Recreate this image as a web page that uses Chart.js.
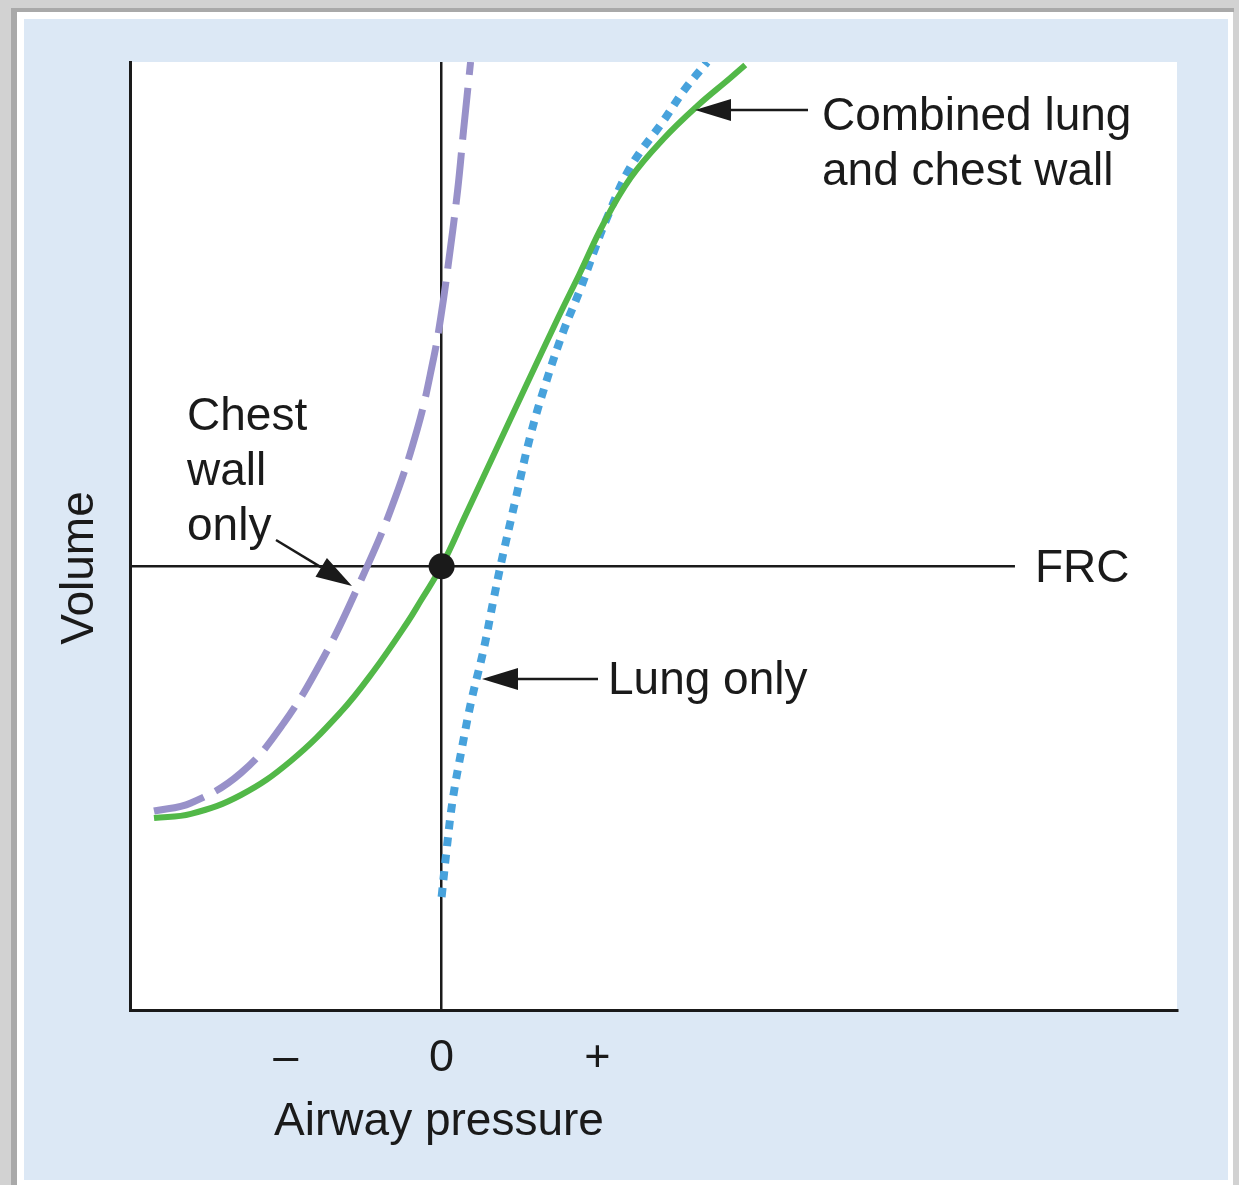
<!DOCTYPE html>
<html>
<head>
<meta charset="utf-8">
<title>Pressure–volume curves</title>
<script src="https://cdn.jsdelivr.net/npm/chart.js@4.4.1/dist/chart.umd.min.js"></script>
<style>
  html, body { margin: 0; padding: 0; background: #fff; }
  canvas { display: block; }
</style>
</head>
<body>
<canvas id="pvChart" width="1239" height="1185"></canvas>
<script>
// airway pressure (x) against volume (y), arbitrary units
const pressureTicks = [-1, 0, 1];
const pressureLabels = ['–', '0', '+'];
const frcVolume = 4.68;
const frcLineEnd = 3.68;

// combined lung and chest wall
const combinedP = [-1.846, -1.609, -1.288, -0.968, -0.647, -0.436, -0.218, -0.135, 0, 0.151, 0.340, 0.532, 0.750, 0.885, 1.038, 1.212, 1.423, 1.641, 1.853, 1.949];
const combinedV = [2.025, 2.068, 2.268, 2.627, 3.143, 3.576, 4.093, 4.314, 4.684, 5.211, 5.876, 6.551, 7.310, 7.764, 8.291, 8.776, 9.188, 9.536, 9.831, 9.968];

// lung only
const lungP = [0, 0.032, 0.071, 0.128, 0.192, 0.269, 0.333, 0.378, 0.474, 0.571, 0.673, 0.782, 0.891, 0.981, 1.064, 1.212, 1.423, 1.558, 1.705];
const lungV = [1.192, 1.688, 2.215, 2.743, 3.270, 3.797, 4.325, 4.684, 5.380, 6.065, 6.635, 7.162, 7.606, 8.017, 8.365, 8.892, 9.378, 9.705, 10.0];

// chest wall only
const chestP = [-1.846, -1.609, -1.288, -1.013, -0.756, -0.538, -0.327, -0.154, -0.051, -0.006, 0.038, 0.103, 0.141, 0.186];
const chestV = [2.099, 2.184, 2.500, 3.027, 3.724, 4.462, 5.274, 6.139, 6.878, 7.300, 7.806, 8.650, 9.283, 10.0];

const toPoints = (xs, ys) => xs.map((x, i) => ({ x: x, y: ys[i] }));

const INK = '#1a1a1a';
const FONT = '46px "Liberation Sans", Arial, sans-serif';

// frame, blue panel and white plot area
const framePlugin = {
  id: 'frame',
  beforeDraw(chart) {
    const c = chart.ctx, a = chart.chartArea;
    c.save();
    c.fillStyle = '#d2d2d2';
    c.fillRect(0, 0, chart.width, chart.height);
    c.fillStyle = '#a9a9a9';
    c.fillRect(11, 8, 6, chart.height);
    c.fillRect(11, 8, chart.width - 16, 4);
    c.fillStyle = '#ffffff';
    c.fillRect(17, 12, 1216, chart.height - 12);
    c.fillStyle = '#dce8f5';
    c.fillRect(24, 19, 1204, 1161);
    c.fillStyle = '#ffffff';
    c.fillRect(a.left, a.top, a.right - a.left, a.bottom - a.top);
    c.restore();
  }
};

function arrow(c, x1, y1, x2, y2) {
  const ang = Math.atan2(y2 - y1, x2 - x1);
  const len = 36, half = 11;
  const bx = x2 - len * Math.cos(ang), by = y2 - len * Math.sin(ang);
  c.beginPath();
  c.moveTo(x1, y1);
  c.lineTo(bx, by);
  c.lineWidth = 2.5;
  c.strokeStyle = INK;
  c.stroke();
  c.beginPath();
  c.moveTo(x2, y2);
  c.lineTo(bx + half * Math.sin(ang), by - half * Math.cos(ang));
  c.lineTo(bx - half * Math.sin(ang), by + half * Math.cos(ang));
  c.closePath();
  c.fillStyle = INK;
  c.fill();
}

// labels, arrows and axis titles
const notesPlugin = {
  id: 'notes',
  afterDraw(chart) {
    const c = chart.ctx;
    c.save();
    c.font = FONT;
    c.fillStyle = INK;
    c.textAlign = 'left';
    c.textBaseline = 'alphabetic';
    c.fillText('Combined lung', 822, 130);
    c.fillText('and chest wall', 822, 185);
    c.fillText('Chest', 187, 430);
    c.fillText('wall', 187, 485);
    c.fillText('only', 187, 540);
    c.fillText('FRC', 1035, 582);
    c.fillText('Lung only', 608, 694);
    c.textAlign = 'center';
    c.fillText('Airway pressure', 439, 1135);
    c.save();
    c.translate(93, 568);
    c.rotate(-Math.PI / 2);
    c.fillText('Volume', 0, 0);
    c.restore();

    arrow(c, 808, 110, 695, 110);
    arrow(c, 598, 679, 482, 679);
    arrow(c, 276, 540, 352, 586);
    c.restore();
  }
};

new Chart(document.getElementById('pvChart'), {
  type: 'scatter',
  data: {
    datasets: [
      {
        label: 'FRC point',
        data: [{ x: 0, y: frcVolume }],
        pointRadius: 13,
        pointBackgroundColor: INK,
        pointBorderWidth: 0,
        showLine: false
      },
      {
        label: 'Combined lung and chest wall',
        data: toPoints(combinedP, combinedV),
        showLine: true,
        borderColor: '#52b848',
        borderWidth: 6,
        pointRadius: 0,
        tension: 0.4
      },
      {
        label: 'Lung only',
        data: toPoints(lungP, lungV),
        showLine: true,
        borderColor: '#47a2dc',
        borderWidth: 8,
        borderDash: [9, 8],
        pointRadius: 0,
        tension: 0.4
      },
      {
        label: 'Chest wall only',
        data: toPoints(chestP, chestV),
        showLine: true,
        borderColor: '#9891c9',
        borderWidth: 7,
        borderDash: [52, 13],
        pointRadius: 0,
        tension: 0.4
      },
      {
        label: 'FRC',
        data: [{ x: -2, y: frcVolume }, { x: frcLineEnd, y: frcVolume }],
        showLine: true,
        borderColor: INK,
        borderWidth: 2.5,
        pointRadius: 0
      }
    ]
  },
  options: {
    responsive: false,
    animation: false,
    layout: { padding: { left: 130, top: 62, right: 62, bottom: 77 } },
    plugins: {
      legend: { display: false },
      tooltip: { enabled: false }
    },
    scales: {
      x: {
        type: 'linear',
        min: -2,
        max: 4.72,
        afterBuildTicks: (scale) => { scale.ticks = pressureTicks.map(v => ({ value: v })); },
        ticks: {
          color: INK,
          padding: 22,
          font: { family: '"Liberation Sans", Arial, sans-serif', size: 45 },
          callback: (value) => pressureLabels[pressureTicks.indexOf(value)]
        },
        grid: {
          drawTicks: false,
          lineWidth: 2.5,
          color: (ctx) => (ctx.tick && ctx.tick.value === 0 ? INK : 'rgba(0,0,0,0)')
        },
        border: { display: true, color: INK, width: 3 }
      },
      y: {
        min: 0,
        max: 10,
        ticks: { display: false },
        grid: { display: false, drawTicks: false },
        border: { display: true, color: INK, width: 3 }
      }
    }
  },
  plugins: [framePlugin, notesPlugin]
});
</script>
</body>
</html>
